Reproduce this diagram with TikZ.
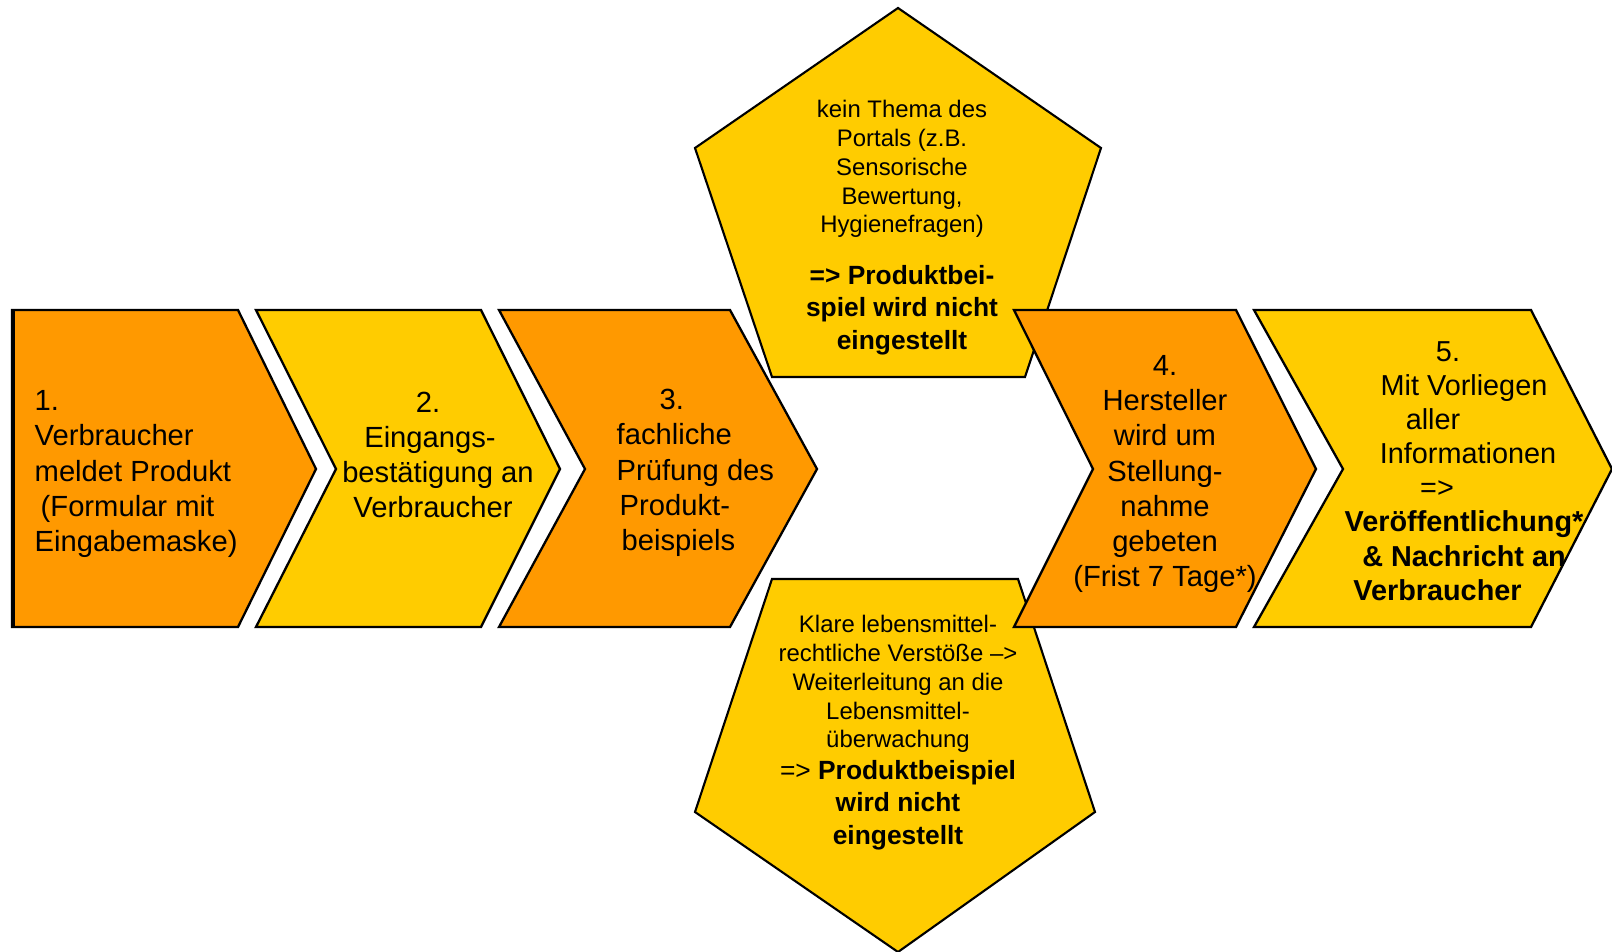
\documentclass[tikz,border=0pt]{standalone}
\usepackage{fontspec}
\setmainfont{Liberation Sans}
\usepackage{tikz}
\usetikzlibrary{positioning}
\usepackage{xcolor}
\definecolor{stepcolor}{RGB}{255, 153, 0}
\definecolor{notecolor}{RGB}{255, 204, 0}

\begin{document}
\begin{tikzpicture}[
    x=0.01cm, y=-0.01cm,
    chev/.style={draw, line width=0.65pt},
    penta/.style={draw, line width=0.6pt, fill=notecolor},
    steptext/.style={inner sep=0pt, font=\fontsize{8.3}{10}\selectfont},
    lasttext/.style={inner sep=0pt, align=center, font=\fontsize{8.2}{9.7}\selectfont},
    notetext/.style={inner sep=0pt, align=center, font=\fontsize{6.8}{8.2}\selectfont},
    resulttext/.style={inner sep=0pt, align=center, font=\fontsize{7.5}{9.2}\selectfont}
]
    \useasboundingbox (0,0) rectangle (1612,952);

    % Side notes (behind the steps)
    \draw[penta] (898,8) -- (1101,148) -- (1025,377) -- (772,377) -- (695,148) -- cycle;
    \draw[penta] (772,579) -- (1018,579) -- (1095,812) -- (898,952) -- (695,812) -- cycle;

    % Steps
    \foreach \xl/\xn/\xr/\xt/\c in {12/12/238/316/stepcolor, 256/336/481/560/notecolor,
        499/585/730/817/stepcolor, 1014/1093/1236/1316/stepcolor, 1254/1343/1531/1612/notecolor} {
        \draw[chev, fill=\c] (\xl,310) -- (\xr,310) -- (\xt,469) -- (\xr,627)
            -- (\xl,627) -- (\xn,469) -- cycle;
    }
    \draw[line width=1.2pt] (13,310) -- (13,627);

    % Step texts
    \node[steptext, anchor=west, align=left] (s1) at (34,474)
        {1.\\Verbraucher\\meldet Produkt\\\hspace*{0.6mm}(Formular mit\\Eingabemaske)};
    \node[steptext, align=center] (s2) at (438,455)
        {2.\rule{2mm}{0pt}\\Eingangs-\rule{1.6mm}{0pt}\\bestätigung an\\Verbraucher\rule{1mm}{0pt}};
    \node[steptext, anchor=west, align=left] (s3) at (616,473)
        {\hspace*{4.3mm}3.\\fachliche\\Prüfung des\\\hspace*{0.3mm}Produkt-\\\hspace*{0.5mm}beispiels};
    \node[steptext, align=center] (s4) at (1165,474)
        {4.\\Hersteller\\wird um\\Stellung-\\nahme\\gebeten\\(Frist 7 Tage*)};
    \node[lasttext] (s5) at (1464,471)
        {5.\rule{3.2mm}{0pt}\\Mit Vorliegen\\aller\rule{6.2mm}{0pt}\\\hspace*{0.8mm}Informationen\\=>\rule{5.4mm}{0pt}\\
        \textbf{Veröffentlichung*}\\\textbf{\& Nachricht an}\\\textbf{Verbraucher}\rule{5.3mm}{0pt}};

    % Note texts
    \node[notetext] (n1) at (902,169)
        {kein Thema des\\Portals (z.B.\\Sensorische\\Bewertung,\\Hygienefragen)};
    \node[resulttext, below=2.6mm of n1] (r1)
        {\textbf{=> Produktbei-}\\\textbf{spiel wird nicht}\\\textbf{eingestellt}};
    \node[notetext] (n2) at (898,684)
        {Klare lebensmittel-\\rechtliche Verstöße –>\\Weiterleitung an die\\Lebensmittel-\\überwachung};
    \node[resulttext] (r2) at (898,805)
        {=> \textbf{Produktbeispiel}\\\textbf{wird nicht}\\\textbf{eingestellt}};
\end{tikzpicture}
\end{document}
